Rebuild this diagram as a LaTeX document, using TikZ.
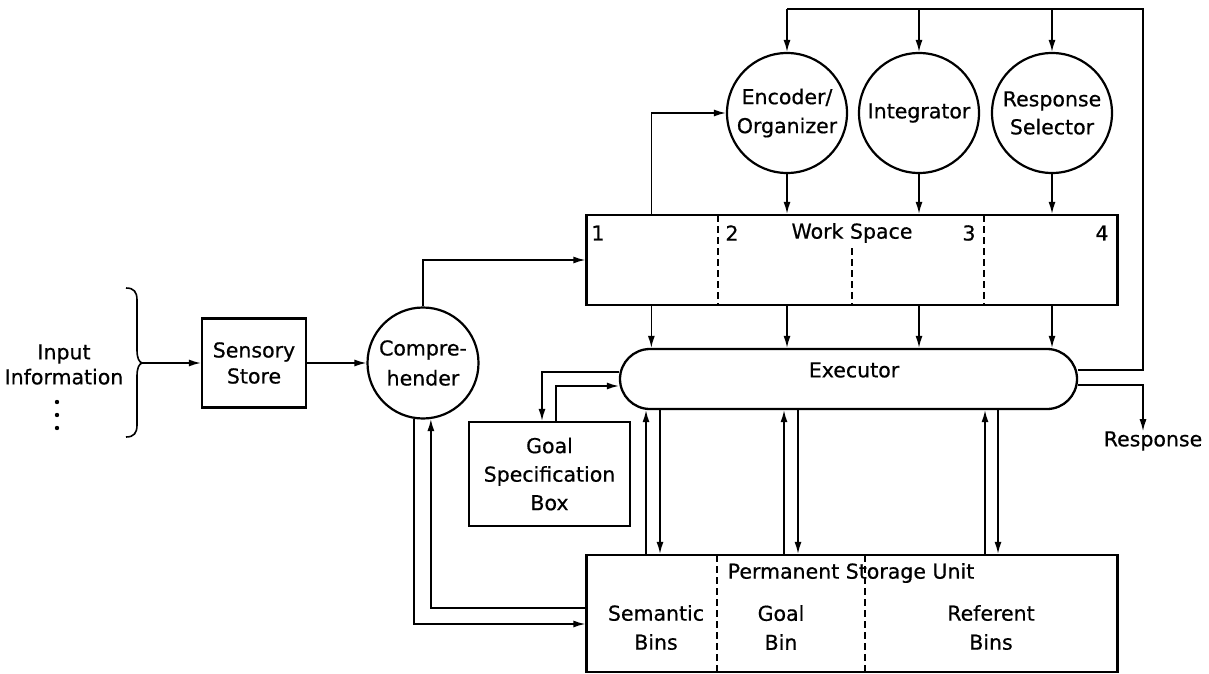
\documentclass[tikz,border=0pt]{standalone}
\usepackage{fontspec}
\setmainfont{DejaVu Sans}[RawFeature={embolden=0.6}]
\usetikzlibrary{arrows.meta,shapes.misc,calc}

\begin{document}
\begin{tikzpicture}[x=1pt,y=-1pt,
  every node/.style={font=\fontsize{20.5}{27}\selectfont, inner sep=0pt, align=center},
  blockbox/.style={draw, line width=2.3pt, rectangle},
  unit/.style={draw, line width=2.2pt, circle, minimum size=120pt},
  link/.style={line width=1.5pt},
  arr/.style={link, -{Latex[length=12pt,width=7pt]}},
  divider/.style={line width=1.5pt, dash pattern=on 7pt off 4pt}]

\useasboundingbox (0,0) rectangle (1209,674);

% ---- input side ----
\node[font=\fontsize{20.5}{25}\selectfont] (input) at (64,364.5) {Input\\Information};
\fill (57,402) circle (2.2pt) (57,415) circle (2.2pt) (57,428) circle (2.2pt);
\coordinate (bracetip) at (142,363);
\draw[line width=1.6pt] (126,288) .. controls (134,288) and (137,292) .. (137,300)
  -- (137,350) .. controls (137,358) and (139,362) .. (bracetip)
  .. controls (139,364) and (137,368) .. (137,376)
  -- (137,425) .. controls (137,433) and (134,437) .. (126,437);

\node[blockbox, minimum width=104pt, minimum height=89pt, font=\fontsize{20.5}{26}\selectfont] (ss) at (254,363) {Sensory\\Store};
\node[unit, minimum size=111pt, font=\fontsize{20.5}{30}\selectfont] (comp) at (423,363) {Compre-\\hender};

% ---- processing units ----
\node[unit, font=\fontsize{20.5}{29}\selectfont] (enc) at (787,113) {Encoder/\\Organizer};
\node[unit] (integ) at (919,113) {Integrator};
\node[unit, font=\fontsize{20.5}{28}\selectfont] (rsel) at (1052,113) {Response\\Selector};

% ---- work space ----
\node[blockbox, minimum width=531pt, minimum height=90pt] (ws) at (852,260) {};
\draw[divider] (718,215) -- (718,305);
\draw[divider] (852,248) -- (852,305);
\draw[divider] (984,215) -- (984,305);
\node (ws1) at (598,233) {1};
\node (ws2) at (732,233) {2};
\node (wslabel) at (852,233) {Work Space};
\node (ws3) at (969,233) {3};
\node (ws4) at (1102,233) {4};

% ---- executor ----
\node[draw, line width=2.3pt, rounded rectangle, minimum width=457pt, minimum height=60pt] (exec) at (848.5,379) {};
\node (execlabel) at (854,370) {Executor};

% ---- goal box ----
\node[blockbox, minimum width=161pt, minimum height=104pt, font=\fontsize{20.5}{28.5}\selectfont] (goal) at (549.5,474) {Goal\\Specification\\Box};

% ---- permanent storage ----
\node[blockbox, minimum width=531pt, minimum height=117pt] (psu) at (852,613.5) {};
\draw[divider] (717,555) -- (717,672);
\draw[divider] (865,555) -- (865,672);
\node (psulabel) at (851,573) {Permanent Storage Unit};
\node[font=\fontsize{20.5}{29}\selectfont] (sem) at (656,627.5) {Semantic\\Bins};
\node[font=\fontsize{20.5}{29}\selectfont] (gbin) at (781,627.5) {Goal\\Bin};
\node[font=\fontsize{20.5}{29}\selectfont] (ref) at (991,627.5) {Referent\\Bins};

\node (resp) at (1153,441) {Response};

% ---- connectors ----
\draw[arr] (bracetip) -- (ss.west);
\draw[arr] (ss.east) -- (comp.west);
\draw[arr] (comp.north) |- (ws.west);
\draw[arr] ([xshift=66pt]ws.north west) |- (enc.west);

% feedback from the executor to the three units
\coordinate (fbcorner) at (1143,9);
\draw[link] ([yshift=9pt]exec.east) -| (fbcorner) -- (enc.north |- fbcorner);
\draw[arr] (enc.north |- fbcorner) -- (enc.north);
\draw[arr] (integ.north |- fbcorner) -- (integ.north);
\draw[arr] (rsel.north |- fbcorner) -- (rsel.north);

% units into the work space
\draw[arr] (enc.south) -- (enc.south |- ws.north);
\draw[arr] (integ.south) -- (integ.south |- ws.north);
\draw[arr] (rsel.south) -- (rsel.south |- ws.north);

% work space into the executor
\coordinate (col1) at ([xshift=66pt]ws.south west);
\draw[arr] (col1) -- (col1 |- exec.north);
\draw[arr] (enc.south |- ws.south) -- (enc.south |- exec.north);
\draw[arr] (integ.south |- ws.south) -- (integ.south |- exec.north);
\draw[arr] (rsel.south |- ws.south) -- (rsel.south |- exec.north);

% executor and goal box
\draw[arr] ([yshift=7pt]exec.west) -| ([xshift=-7.5pt]goal.north);
\draw[arr] ([xshift=6.5pt]goal.north) |- ([yshift=-7pt]exec.west);

% executor and permanent storage
\foreach \u/\d in {646/660, 784/798, 985/998} {
  \draw[arr] (psu.north -| \u,0) -- (exec.south -| \u,0);
  \draw[arr] (exec.south -| \d,0) -- (psu.north -| \d,0);
}

% comprehender and permanent storage
\draw[arr] ([yshift=5.5pt]psu.west) -| (comp.-82);
\draw[arr] (comp.-99) |- ([yshift=-10.5pt]psu.west);

% response output
\draw[arr] ([yshift=-6pt]exec.east) -| ([xshift=-10pt]resp.north);
\end{tikzpicture}
\end{document}
